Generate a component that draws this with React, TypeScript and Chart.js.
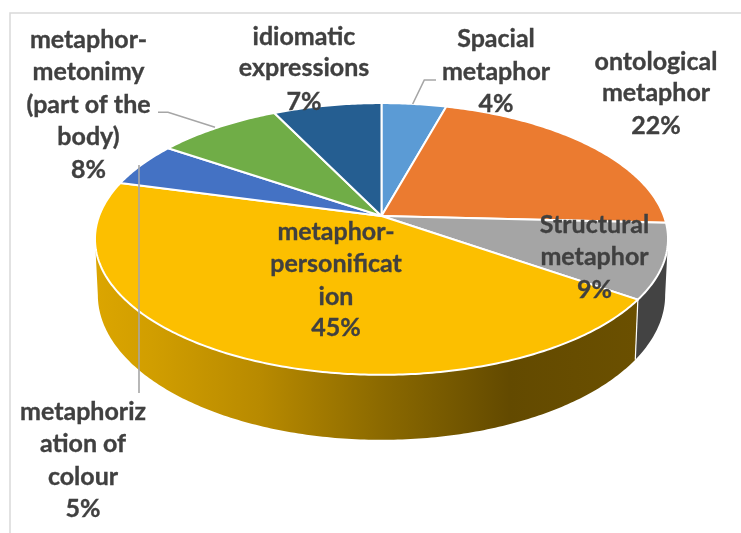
import React, { useEffect, useRef } from "react";
import { Chart, registerables } from "chart.js";

Chart.register(...registerables);

const categories = [
  "Spacial metaphor",
  "ontological metaphor",
  "Structural metaphor",
  "metaphor-personification",
  "metaphorization of colour",
  "metaphor-metonimy (part of the body)",
  "idiomatic expressions",
];
const shares = [4.3, 21.5, 8.9, 44.5, 5.3, 8.3, 7.2];
const sliceColours = ["#5B9BD5", "#EB7B30", "#A5A5A5", "#FCBF00", "#4472C4", "#70AD47", "#255E91"];
const labelLines = [
  ["Spacial", "metaphor"],
  ["ontological", "metaphor"],
  ["Structural", "metaphor"],
  ["metaphor-", "personificat", "ion"],
  ["metaphoriz", "ation of", "colour"],
  ["metaphor-", "metonimy", "(part of the", "body)"],
  ["idiomatic", "expressions"],
];
// centre x, then one baseline per text line (the last is the percentage)
const labelCentres = [496, 656, 594.5, 336, 83, 88.5, 304];
const labelBaselines = [
  [47, 79.5, 112],
  [69.5, 101, 134],
  [232.5, 264.5, 298],
  [240, 272, 304.5, 336],
  [419.5, 452, 484.5, 517],
  [48, 80, 113, 145, 178],
  [45, 76, 110],
];
const leaders = [
  [[412.7, 104], [424.3, 80], [436, 80]],
  [[215, 127.3], [168, 112.3], [158, 112.3]],
  [[139, 165], [139, 393]],
];

const CX = 381.5, APEX_Y = 216, R = 282.4, K = 132, P = 0.169;
const ELLIPSE_Y = 239, DEPTH_X = 0.99, BOTTOM_Y = 295, DEPTH_Y = 145 / 136;

// perspective view of the pie's unit circle
const top = (a: number): [number, number] => {
  const X = Math.cos(a), Y = Math.sin(a), w = 1 / (1 - P * Y);
  return [CX + R * X * w, APEX_Y + K * Y * w];
};
const bottom = (a: number): [number, number] => {
  const [x, y] = top(a);
  return [CX + (x - CX) * DEPTH_X, BOTTOM_Y + (y - ELLIPSE_Y) * DEPTH_Y];
};
const sample = (a0: number, a1: number) => {
  const n = Math.max(2, Math.ceil(Math.abs(a1 - a0) * 80));
  return Array.from({ length: n + 1 }, (_, i) => a0 + ((a1 - a0) * i) / n);
};

const pie3d = {
  id: "pie3d",
  beforeDraw(chart: any) {
    const { ctx, width, height } = chart;
    ctx.save();
    ctx.fillStyle = "#fff";
    ctx.fillRect(0, 0, width, height);
    ctx.strokeStyle = "#d9d9d9";
    ctx.lineWidth = 1.5;
    ctx.beginPath();
    ctx.moveTo(10, height);
    ctx.lineTo(10, 13);
    ctx.lineTo(width, 13);
    ctx.stroke();
    ctx.restore();
  },
  beforeDatasetDraw(chart: any, args: any) {
    const { ctx } = chart;
    const arcs = args.meta.data;
    const leftTangent = Math.PI - Math.asin(P);
    const rightTangent = Math.asin(P);
    ctx.save();

    // extruded wall of the front slices
    arcs.forEach((arc: any, i: number) => {
      const a0 = Math.max(arc.startAngle, rightTangent);
      const a1 = Math.min(arc.endAngle, leftTangent);
      if (a1 <= a0) return;
      ctx.beginPath();
      sample(a0, a1).forEach((a, j) => {
        const [x, y] = top(a);
        j ? ctx.lineTo(x, y) : ctx.moveTo(x, y);
      });
      sample(a1, a0).forEach((a) => {
        const [x, y] = bottom(a);
        ctx.lineTo(x, y);
      });
      ctx.closePath();
      if (sliceColours[i] === "#FCBF00") {
        const g = ctx.createLinearGradient(97, 0, 640, 0);
        g.addColorStop(0, "#DBA500");
        g.addColorStop(0.1, "#D19E00");
        g.addColorStop(0.3, "#B88A00");
        g.addColorStop(0.52, "#8C6A00");
        g.addColorStop(0.76, "#634A00");
        g.addColorStop(1, "#6B5000");
        ctx.fillStyle = g;
      } else {
        ctx.fillStyle = "#434343";
      }
      ctx.fill();
    });
    // seam between the two visible walls
    arcs.forEach((arc: any) => {
      if (arc.endAngle > rightTangent && arc.endAngle < leftTangent) {
        const [x0, y0] = top(arc.endAngle);
        const [x1, y1] = bottom(arc.endAngle);
        ctx.strokeStyle = "#fff";
        ctx.lineWidth = 1.2;
        ctx.beginPath();
        ctx.moveTo(x0, y0);
        ctx.lineTo(x1, y1);
        ctx.stroke();
      }
    });

    // top face
    arcs.forEach((arc: any, i: number) => {
      ctx.beginPath();
      ctx.moveTo(CX, APEX_Y);
      sample(arc.startAngle, arc.endAngle).forEach((a) => {
        const [x, y] = top(a);
        ctx.lineTo(x, y);
      });
      ctx.closePath();
      ctx.fillStyle = sliceColours[i];
      ctx.fill();
      ctx.strokeStyle = "#fff";
      ctx.lineWidth = 2;
      ctx.lineJoin = "round";
      ctx.stroke();
    });
    ctx.restore();
    return false;
  },
  afterDatasetsDraw(chart: any) {
    const { ctx } = chart;
    ctx.save();
    ctx.strokeStyle = "#A6A6A6";
    ctx.lineWidth = 1.6;
    leaders.forEach((pts) => {
      ctx.beginPath();
      pts.forEach(([x, y], j) => (j ? ctx.lineTo(x, y) : ctx.moveTo(x, y)));
      ctx.stroke();
    });
    ctx.font = "bold 25px Lato";
    ctx.fillStyle = "#404040";
    ctx.strokeStyle = "#404040";
    ctx.lineWidth = 0.35;
    ctx.textAlign = "center";
    ctx.textBaseline = "alphabetic";
    labelLines.forEach((lines, i) => {
      const texts = [...lines, Math.round(shares[i]) + "%"];
      texts.forEach((t, j) => {
        ctx.fillText(t, labelCentres[i], labelBaselines[i][j]);
        ctx.strokeText(t, labelCentres[i], labelBaselines[i][j]);
      });
    });
    ctx.restore();
  },
};

export default function App() {
  const ref = useRef<HTMLCanvasElement>(null);
  useEffect(() => {
    const chart = new Chart(ref.current!, {
      type: "pie",
      data: {
        labels: categories,
        datasets: [{ data: shares, backgroundColor: sliceColours, borderColor: "#fff" }],
      },
      options: {
        animation: false,
        responsive: false,
        events: [],
        plugins: { legend: { display: false }, tooltip: { enabled: false } },
      },
      plugins: [pie3d],
    } as any);
    return () => chart.destroy();
  }, []);
  return (
    <canvas
      ref={ref}
      width={741}
      height={533}
      style={{ position: "absolute", left: 0, top: 0, display: "block" }}
    />
  );
}
